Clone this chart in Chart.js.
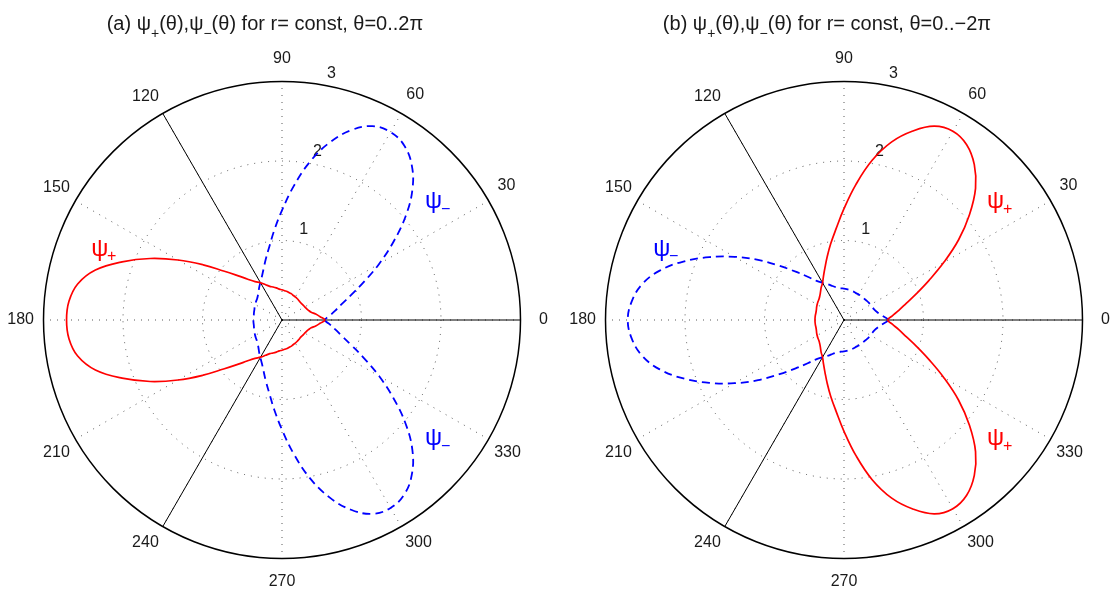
<!DOCTYPE html>
<html lang="en">
  <head>
    <meta charset="UTF-8" />
    <meta name="viewport" content="width=device-width, initial-scale=1.0" />
    <title>psi+ / psi- polar plots</title>
    <style>
      html,
      body {
        margin: 0;
        padding: 0;
        background: #fff;
      }
      body {
        position: relative;
        width: 1117px;
        height: 597px;
        overflow: hidden;
        font-family: "Liberation Sans", Arial, sans-serif;
        color: #1a1a1a;
      }
      canvas {
        position: absolute;
        top: 0;
      }
      #polarA {
        left: -38px;
      }
      #polarB {
        left: 524px;
      }
      .title {
        position: absolute;
        top: 11px;
        width: 600px;
        line-height: 24px;
        font-size: 20px;
        text-align: center;
        white-space: nowrap;
      }
      .title sub {
        font-size: 14px;
        vertical-align: baseline;
        position: relative;
        top: 8px;
      }
    </style>
  </head>
  <body>
    <canvas id="polarA" width="640" height="597"></canvas>
    <canvas id="polarB" width="640" height="597"></canvas>
    <div class="title" style="left: -35px">
      (a) ψ<sub>+</sub>(θ),ψ<sub>−</sub>(θ) for r= const, θ=0..2π
    </div>
    <div class="title" style="left: 527px">
      (b) ψ<sub>+</sub>(θ),ψ<sub>−</sub>(θ) for r= const, θ=0..−2π
    </div>

    <script src="https://cdn.jsdelivr.net/npm/chart.js"></script>
    <script>
      // sample angles (degrees), counter-clockwise from the right
      var thetas = [
        0, 5, 10, 15, 20, 25, 30, 35, 40, 45, 50, 55,
        60, 65, 70, 75, 80, 85, 90, 95, 100, 105, 110, 115,
        120, 125, 130, 135, 140, 145, 150, 155, 160, 165, 170, 175,
        180, 185, 190, 195, 200, 205, 210, 215, 220, 225, 230, 235,
        240, 245, 250, 255, 260, 265, 270, 275, 280, 285, 290, 295,
        300, 305, 310, 315, 320, 325, 330, 335, 340, 345, 350, 355,
      ];
      var angleTicks = [0, 30, 60, 90, 120, 150, 180, 210, 240, 270, 300, 330];
      var radiusTicks = [1, 2, 3];
      var cutAngles = [0, 120, 240];

      // (a) theta = 0..2pi
      var psiPlusA = [
        0.54, 0.48, 0.43, 0.38, 0.355, 0.34, 0.33, 0.325, 0.32, 0.32, 0.325, 0.33,
        0.335, 0.34, 0.35, 0.355, 0.365, 0.37, 0.38, 0.39, 0.41, 0.43, 0.45, 0.49,
        0.54, 0.59, 0.67, 0.79, 0.96, 1.21, 1.51, 1.83, 2.14, 2.43, 2.61, 2.69,
        2.71, 2.69, 2.61, 2.43, 2.14, 1.83, 1.51, 1.21, 0.96, 0.79, 0.67, 0.59,
        0.54, 0.49, 0.45, 0.43, 0.41, 0.39, 0.38, 0.37, 0.365, 0.355, 0.35, 0.34,
        0.335, 0.33, 0.325, 0.32, 0.32, 0.325, 0.33, 0.34, 0.355, 0.38, 0.43, 0.48,
      ];
      var psiMinusA = [
        0.54, 0.6, 0.68, 0.78, 0.93, 1.14, 1.41, 1.71, 2.03, 2.32, 2.54, 2.68,
        2.73, 2.69, 2.54, 2.31, 2.02, 1.69, 1.38, 1.13, 0.93, 0.79, 0.68, 0.6,
        0.545, 0.5, 0.46, 0.43, 0.41, 0.4, 0.39, 0.38, 0.37, 0.365, 0.36, 0.36,
        0.36, 0.36, 0.36, 0.365, 0.37, 0.38, 0.39, 0.4, 0.41, 0.43, 0.46, 0.5,
        0.545, 0.6, 0.68, 0.79, 0.93, 1.13, 1.38, 1.69, 2.02, 2.31, 2.54, 2.69,
        2.73, 2.68, 2.54, 2.32, 2.03, 1.71, 1.41, 1.14, 0.93, 0.78, 0.68, 0.6,
      ];

      // (b) theta = 0..-2pi
      var psiPlusB = [
        0.55, 0.61, 0.7, 0.81, 0.97, 1.18, 1.45, 1.76, 2.06, 2.34, 2.55, 2.69,
        2.74, 2.69, 2.53, 2.32, 2.04, 1.71, 1.4, 1.15, 0.97, 0.82, 0.7, 0.61,
        0.54, 0.5, 0.46, 0.43, 0.41, 0.4, 0.39, 0.38, 0.37, 0.365, 0.365, 0.365,
        0.365, 0.365, 0.365, 0.365, 0.37, 0.38, 0.39, 0.4, 0.41, 0.43, 0.46, 0.5,
        0.54, 0.61, 0.7, 0.82, 0.97, 1.15, 1.4, 1.71, 2.04, 2.32, 2.53, 2.69,
        2.74, 2.69, 2.55, 2.34, 2.06, 1.76, 1.45, 1.18, 0.97, 0.81, 0.7, 0.61,
      ];
      var psiMinusB = [
        0.56, 0.5, 0.45, 0.42, 0.4, 0.39, 0.385, 0.38, 0.375, 0.37, 0.37, 0.37,
        0.37, 0.37, 0.375, 0.38, 0.385, 0.39, 0.395, 0.4, 0.41, 0.43, 0.46, 0.5,
        0.54, 0.6, 0.71, 0.86, 1.06, 1.32, 1.59, 1.87, 2.15, 2.4, 2.58, 2.68,
        2.72, 2.68, 2.58, 2.4, 2.15, 1.87, 1.59, 1.32, 1.06, 0.86, 0.71, 0.6,
        0.54, 0.5, 0.46, 0.43, 0.41, 0.4, 0.395, 0.39, 0.385, 0.38, 0.375, 0.37,
        0.37, 0.37, 0.37, 0.37, 0.375, 0.38, 0.385, 0.39, 0.4, 0.42, 0.45, 0.5,
      ];

      var FONT = "'Liberation Sans', Arial, sans-serif";
      var RED = "#ff0000";
      var BLUE = "#0000ff";
      var rMax = radiusTicks[radiusTicks.length - 1];
      var step = thetas[1] - thetas[0];

      // radar runs clockwise, so walk the angles backwards (0, 355, 350, ...)
      var order = thetas.map(function (t, k) {
        return thetas[(thetas.length - k) % thetas.length];
      });
      function byOrder(series) {
        return order.map(function (t) {
          return series[thetas.indexOf(t)];
        });
      }
      // straight black cuts from the centre out to the rim
      var cutData = order.map(function (t) {
        if (cutAngles.indexOf(t) >= 0) return rMax;
        if (cutAngles.indexOf((t + step) % 360) >= 0) return 0;
        return null;
      });

      var polarNotes = {
        id: "polarNotes",
        beforeDatasetsDraw: function (chart) {
          var s = chart.scales.r;
          var ctx = chart.ctx;
          ctx.save();
          ctx.font = "16px " + FONT;
          ctx.fillStyle = "#1a1a1a";
          ctx.textAlign = "left";
          ctx.textBaseline = "alphabetic";
          radiusTicks.forEach(function (v) {
            var d = s.getDistanceFromCenterForValue(v);
            var a = (80 * Math.PI) / 180;
            ctx.fillText(String(v), s.xCenter + d * Math.cos(a) + 3.5, s.yCenter - d * Math.sin(a) - 7.5);
          });
          ctx.restore();
        },
        afterDatasetsDraw: function (chart, args, opts) {
          var s = chart.scales.r;
          var ctx = chart.ctx;
          ctx.save();
          ctx.textAlign = "center";
          ctx.textBaseline = "middle";
          (opts.names || []).forEach(function (n) {
            var d = s.getDistanceFromCenterForValue(n.r);
            var a = (n.theta * Math.PI) / 180;
            var x = s.xCenter + d * Math.cos(a);
            var y = s.yCenter - d * Math.sin(a);
            ctx.fillStyle = n.color;
            ctx.font = "24px " + FONT;
            ctx.fillText("ψ", x, y);
            ctx.font = "16px " + FONT;
            ctx.fillText(n.sub, x + 12, y + 8);
          });
          ctx.restore();
        },
      };

      function makePolar(id, plus, minus, names) {
        var ctx = document.getElementById(id).getContext("2d");
        return new Chart(ctx, {
          type: "radar",
          data: {
            labels: order,
            datasets: [
              {
                label: "ψ+",
                data: byOrder(plus),
                borderColor: RED,
                borderWidth: 1.7,
                tension: 0.4,
                fill: false,
                pointRadius: 0,
              },
              {
                label: "ψ−",
                data: byOrder(minus),
                borderColor: BLUE,
                borderWidth: 1.8,
                borderDash: [8, 5],
                tension: 0.4,
                fill: false,
                pointRadius: 0,
              },
              {
                label: "cut",
                data: cutData,
                borderColor: "#000",
                borderWidth: 1,
                tension: 0,
                fill: false,
                spanGaps: false,
                pointRadius: 0,
              },
            ],
          },
          options: {
            responsive: false,
            animation: false,
            events: [],
            layout: { padding: { top: 49, bottom: 6, left: 0, right: 0 } },
            plugins: {
              legend: { display: false },
              tooltip: { enabled: false },
              polarNotes: { names: names },
            },
            scales: {
              r: {
                min: 0,
                max: rMax,
                startAngle: 90,
                ticks: { stepSize: 1, display: false },
                grid: {
                  circular: true,
                  color: function (c) {
                    return c.tick && c.tick.value === rMax ? "#000" : "rgba(0,0,0,0.65)";
                  },
                  lineWidth: function (c) {
                    return c.tick && c.tick.value === rMax ? 1.5 : 1;
                  },
                },
                border: {
                  dash: function (c) {
                    return c.tick && c.tick.value === rMax ? [] : [1, 6];
                  },
                },
                angleLines: {
                  display: true,
                  color: "rgba(0,0,0,0.65)",
                  lineWidth: function (c) {
                    return angleTicks.indexOf(order[c.index]) >= 0 ? 1 : 0;
                  },
                  borderDash: [1, 6],
                },
                pointLabels: {
                  display: true,
                  color: "#1a1a1a",
                  font: { family: FONT, size: 16 },
                  callback: function (label) {
                    return angleTicks.indexOf(label) >= 0 ? String(label) : "";
                  },
                  // keep each angle label centred about the same radius
                  padding: function (c) {
                    if (!c.label) return 0;
                    var a = (order[c.index] * Math.PI) / 180;
                    var w = c.label.length * 8.9;
                    return 22.9 - (Math.abs(Math.cos(a)) * w) / 2 - (Math.abs(Math.sin(a)) * 19.2) / 2;
                  },
                },
              },
            },
          },
          plugins: [polarNotes],
        });
      }

      makePolar("polarA", psiPlusA, psiMinusA, [
        { r: 2.46, theta: 158.7, color: RED, sub: "+" },
        { r: 2.42, theta: 38, color: BLUE, sub: "−" },
        { r: 2.42, theta: -38, color: BLUE, sub: "−" },
      ]);
      makePolar("polarB", psiPlusB, psiMinusB, [
        { r: 2.46, theta: 158.7, color: BLUE, sub: "−" },
        { r: 2.42, theta: 38, color: RED, sub: "+" },
        { r: 2.42, theta: -38, color: RED, sub: "+" },
      ]);
    </script>
  </body>
</html>
